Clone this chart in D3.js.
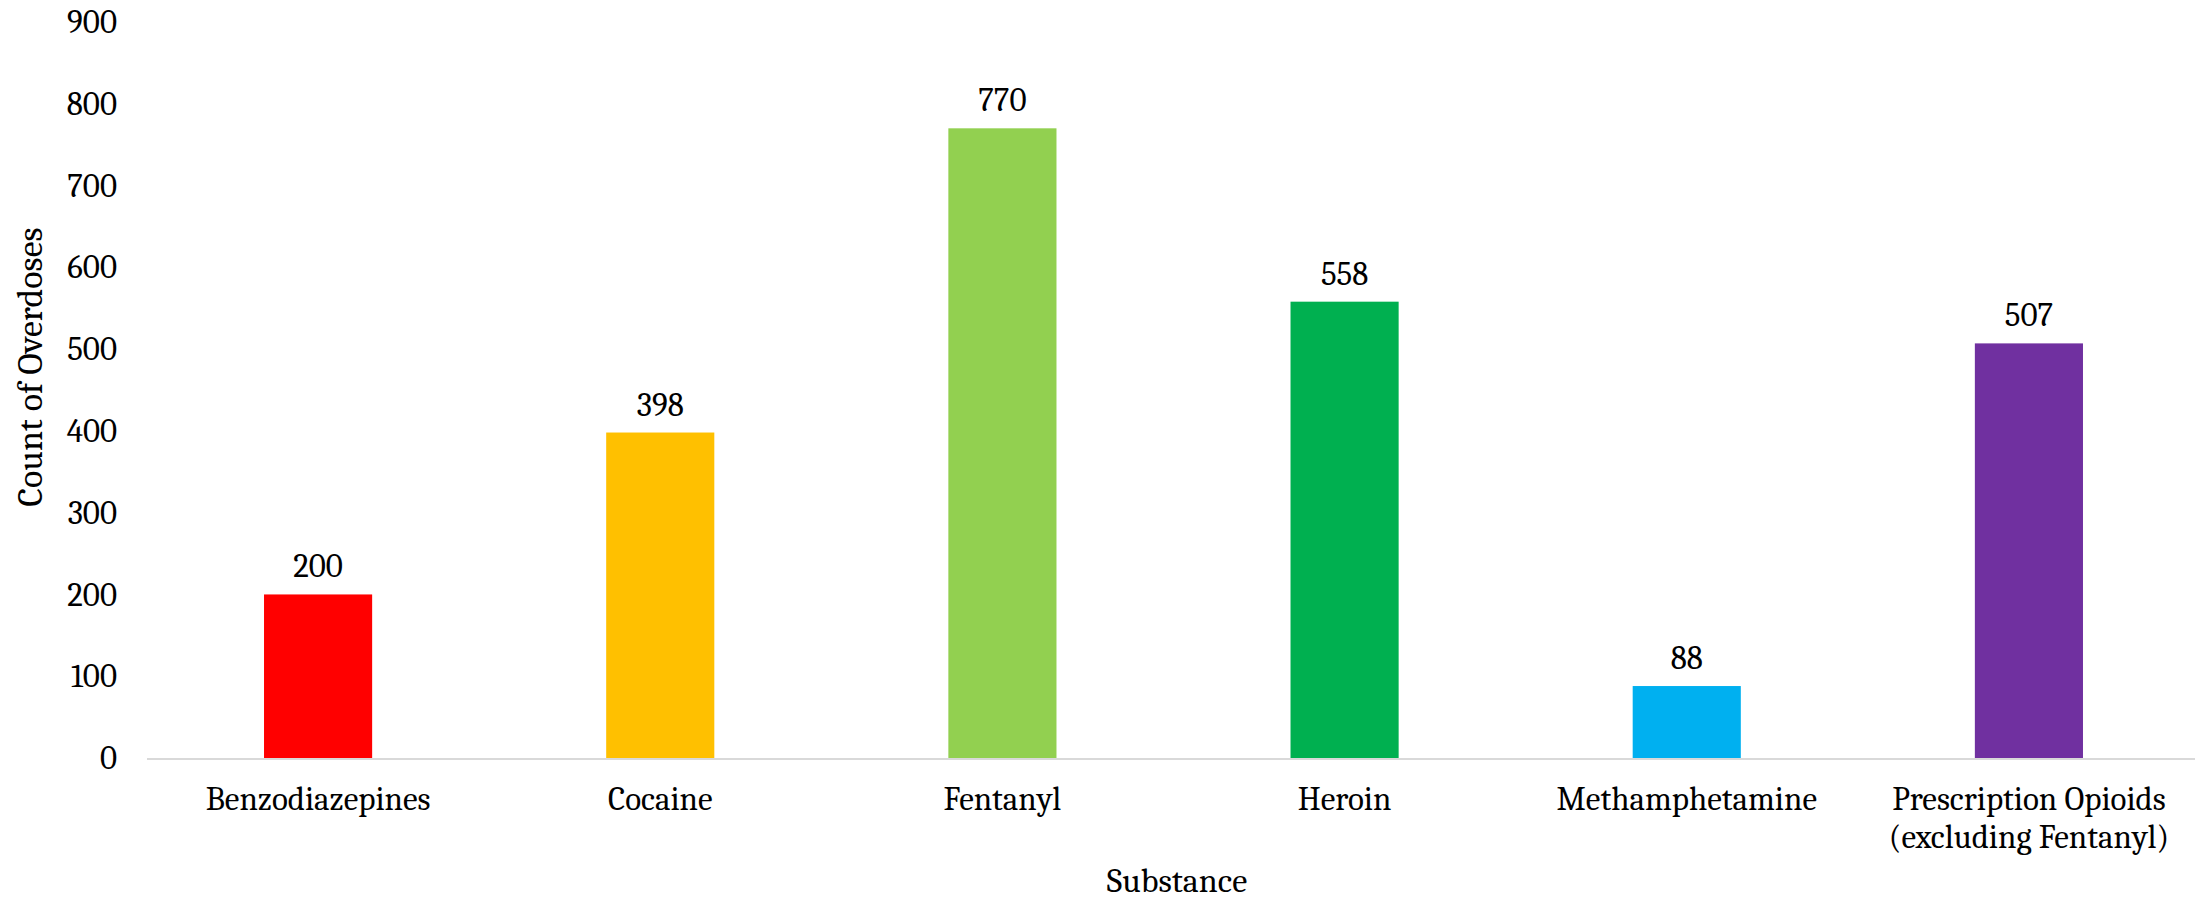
<!DOCTYPE html>
<html>
<head>
<meta charset="utf-8">
<script src="https://cdn.jsdelivr.net/npm/d3@7"></script>
<style>
  body { margin: 0; background: #fff; }
  text { font-family: Cambria, "Liberation Serif", serif; fill: #000; }
</style>
</head>
<body>
<div id="chart"></div>
<script>
var substances = ["Benzodiazepines", "Cocaine", "Fentanyl", "Heroin", "Methamphetamine", "Prescription Opioids (excluding Fentanyl)"];
var counts = [200, 398, 770, 558, 88, 507];
var barColors = ["#FF0000", "#FFC000", "#92D050", "#00B050", "#00B0F0", "#7030A0"];
var yTicks = [0, 100, 200, 300, 400, 500, 600, 700, 800, 900];

var width = 2195,
    height = 902,
    fontSize = 33;

var svg = d3.select("#chart").append("svg")
  .attr("width", width)
  .attr("height", height);

var x = d3.scaleBand()
  .domain(substances)
  .range([147, 2200])
  .paddingInner(0.684)
  .paddingOuter(0.342);

var y = d3.scaleLinear()
  .domain([0, 900])
  .range([758, 22]);

// y axis labels only, no line
var yAxis = svg.append("g")
  .attr("transform", "translate(147,0)")
  .call(d3.axisLeft(y).tickValues(yTicks).tickSize(0).tickPadding(30));
yAxis.select(".domain").remove();
yAxis.selectAll("text")
  .style("font-size", fontSize + "px")
  .style("font-family", "Cambria, 'Liberation Serif', serif")
  .attr("fill", "#000");

// bars
svg.selectAll(".bar")
  .data(counts)
  .enter().append("rect")
  .attr("class", "bar")
  .attr("x", function(d, i) { return x(substances[i]); })
  .attr("width", x.bandwidth())
  .attr("y", function(d) { return y(d); })
  .attr("height", function(d) { return y(0) - y(d); })
  .style("fill", function(d, i) { return barColors[i]; });

// value labels
svg.selectAll(".val")
  .data(counts)
  .enter().append("text")
  .attr("class", "val")
  .attr("x", function(d, i) { return x(substances[i]) + x.bandwidth() / 2; })
  .attr("y", function(d) { return y(d) - 17; })
  .attr("text-anchor", "middle")
  .style("font-size", fontSize + "px")
  .text(function(d) { return d; });

// x axis line
svg.append("line")
  .attr("x1", 147).attr("x2", width)
  .attr("y1", y(0) + 1).attr("y2", y(0) + 1)
  .attr("stroke", "#D9D9D9")
  .attr("stroke-width", 2);

// category labels, wrap the long one
var xLabels = svg.selectAll(".cat")
  .data(substances)
  .enter().append("text")
  .attr("class", "cat")
  .attr("text-anchor", "middle")
  .style("font-size", fontSize + "px")
  .attr("transform", function(d) {
    return "translate(" + (x(d) + x.bandwidth() / 2) + ",810)";
  });

xLabels.each(function(d) {
  var lines = d.indexOf("(") > 0 ? [d.slice(0, d.indexOf("(") - 1), d.slice(d.indexOf("("))] : [d];
  d3.select(this).selectAll("tspan")
    .data(lines)
    .enter().append("tspan")
    .attr("x", 0)
    .attr("y", function(l, i) { return i * 38; })
    .text(function(l) { return l; });
});

// axis titles
svg.append("text")
  .attr("x", 1177)
  .attr("y", 892)
  .attr("text-anchor", "middle")
  .style("font-size", "34px")
  .text("Substance");

svg.append("text")
  .attr("transform", "translate(42,367) rotate(-90)")
  .attr("text-anchor", "middle")
  .style("font-size", "36px")
  .text("Count of Overdoses");
</script>
</body>
</html>
